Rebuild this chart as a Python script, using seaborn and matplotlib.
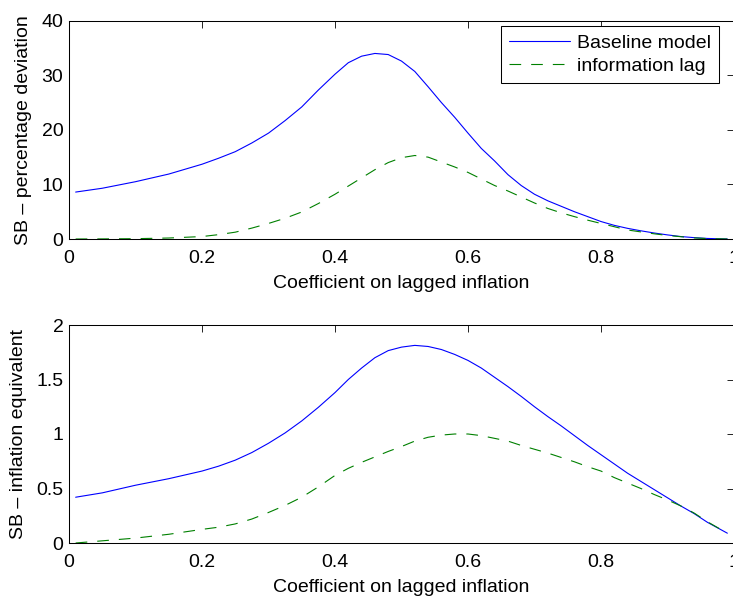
import matplotlib
matplotlib.use("Agg")
import matplotlib.pyplot as plt
import pandas as pd
import seaborn as sns
from matplotlib.ticker import FuncFormatter

# values
coef = [0.01, 0.05, 0.10, 0.15, 0.20, 0.225, 0.25, 0.275, 0.30, 0.325, 0.35, 0.375, 0.40, 0.42,
        0.44, 0.46, 0.48, 0.50, 0.52, 0.54, 0.56, 0.58, 0.60, 0.62, 0.64, 0.66, 0.68, 0.70,
        0.72, 0.74, 0.76, 0.78, 0.80, 0.82, 0.84, 0.86, 0.88, 0.90, 0.92, 0.94, 0.96, 0.99]

# top panel: percentage deviation
pct_baseline = [8.6, 9.3, 10.5, 11.9, 13.7, 14.8, 16.0, 17.6, 19.4, 21.7, 24.2, 27.3, 30.2, 32.3,
                33.5, 34.0, 33.8, 32.6, 30.7, 27.9, 25.0, 22.3, 19.4, 16.6, 14.3, 11.8, 9.8, 8.2,
                7.0, 6.0, 5.0, 4.1, 3.2, 2.5, 1.95, 1.5, 1.1, 0.75, 0.45, 0.25, 0.1, 0.0]
pct_infolag = [0.0, 0.02, 0.06, 0.18, 0.45, 0.8, 1.25, 2.0, 2.85, 3.8, 4.95, 6.5, 8.2, 9.7,
               11.2, 12.7, 14.0, 14.9, 15.3, 15.0, 14.1, 13.2, 12.2, 11.0, 9.8, 8.8, 7.7, 6.6,
               5.6, 4.8, 4.1, 3.45, 2.85, 2.25, 1.65, 1.3, 0.95, 0.65, 0.42, 0.2, 0.08, 0.0]

# bottom panel: inflation equivalent
infl_baseline = [0.42, 0.46, 0.53, 0.59, 0.66, 0.705, 0.76, 0.83, 0.915, 1.01, 1.12, 1.245, 1.38, 1.50,
                 1.605, 1.70, 1.765, 1.797, 1.813, 1.803, 1.775, 1.73, 1.675, 1.605, 1.52, 1.435, 1.345, 1.25,
                 1.16, 1.075, 0.985, 0.895, 0.81, 0.725, 0.64, 0.565, 0.49, 0.415, 0.34, 0.27, 0.19, 0.09]
infl_infolag = [0.0, 0.02, 0.045, 0.08, 0.125, 0.145, 0.175, 0.22, 0.28, 0.345, 0.42, 0.515, 0.62, 0.685,
                0.74, 0.79, 0.84, 0.885, 0.935, 0.97, 0.99, 1.0, 1.0, 0.985, 0.96, 0.935, 0.895, 0.86,
                0.825, 0.785, 0.745, 0.70, 0.66, 0.60, 0.55, 0.50, 0.445, 0.395, 0.34, 0.275, 0.195, 0.09]

series_names = ["Baseline model", "information lag"]
x_ticks = [0, 0.2, 0.4, 0.6, 0.8, 1]
pct_ticks = [0, 10, 20, 30, 40]
infl_ticks = [0, 0.5, 1, 1.5, 2]
x_label = "Coefficient on lagged inflation"
pct_label = "SB \u2013 percentage deviation"
infl_label = "SB \u2013 inflation equivalent"


def long_form(base, lag):
    n = len(coef)
    return pd.DataFrame({
        "coef": coef + coef,
        "value": base + lag,
        "model": [series_names[0]] * n + [series_names[1]] * n,
    })


sns.set_theme(style="white", rc={
    "axes.edgecolor": "black",
    "axes.linewidth": 0.75,
    "legend.fancybox": False,
    "text.color": "black",
    "axes.labelcolor": "black",
    "xtick.color": "black",
    "ytick.color": "black",
})
plt.rcParams['font.family'] = ['Liberation Sans', 'DejaVu Sans']
plt.rcParams['font.size'] = 14

palette = {series_names[0]: (0, 0, 1), series_names[1]: (0, 0.5, 0)}
dashes = {series_names[0]: "", series_names[1]: (10.5, 9)}

fig = plt.figure(figsize=(7.33, 5.96), dpi=100)
ax_top = fig.add_axes([69 / 733, 1 - 239 / 596, 665 / 733, 218.3 / 596])
ax_bot = fig.add_axes([69 / 733, 1 - 543 / 596, 665 / 733, 218 / 596])

sns.lineplot(data=long_form(pct_baseline, pct_infolag), x="coef", y="value",
             hue="model", style="model", palette=palette, dashes=dashes,
             linewidth=0.8, ax=ax_top)
sns.lineplot(data=long_form(infl_baseline, infl_infolag), x="coef", y="value",
             hue="model", style="model", palette=palette, dashes=dashes,
             linewidth=0.8, ax=ax_bot, legend=False)

fmt = FuncFormatter(lambda v, p: "%g" % v)
for ax, yt, ylab in [(ax_top, pct_ticks, pct_label), (ax_bot, infl_ticks, infl_label)]:
    ax.set_xlim(0, 1)
    ax.set_ylim(yt[0], yt[-1])
    ax.set_xticks(x_ticks)
    ax.set_yticks(yt)
    ax.xaxis.set_major_formatter(fmt)
    ax.yaxis.set_major_formatter(fmt)
    ax.tick_params(direction="in", length=5, width=0.6, top=True, right=True,
                   labelsize=14, colors="black")
    ax.tick_params(axis="x", pad=8)
    ax.tick_params(axis="y", pad=4)
    ax.set_xlabel(x_label, fontsize=14, labelpad=5.5)
    ax.set_ylabel(ylab, fontsize=14, labelpad=7)
    for s in ax.spines.values():
        s.set_visible(True)
        s.set_color("black")

sns.move_legend(ax_top, "upper right", bbox_to_anchor=(0.978, 0.977), borderaxespad=0,
                title=None, frameon=True, fontsize=14, handlelength=3.1,
                handletextpad=0.36, labelspacing=0.25, borderpad=0.45)
leg = ax_top.get_legend()
leg.get_frame().set_edgecolor("black")
leg.get_frame().set_linewidth(0.75)
leg.get_frame().set_alpha(1)

fig.savefig("out.png", dpi=100)
